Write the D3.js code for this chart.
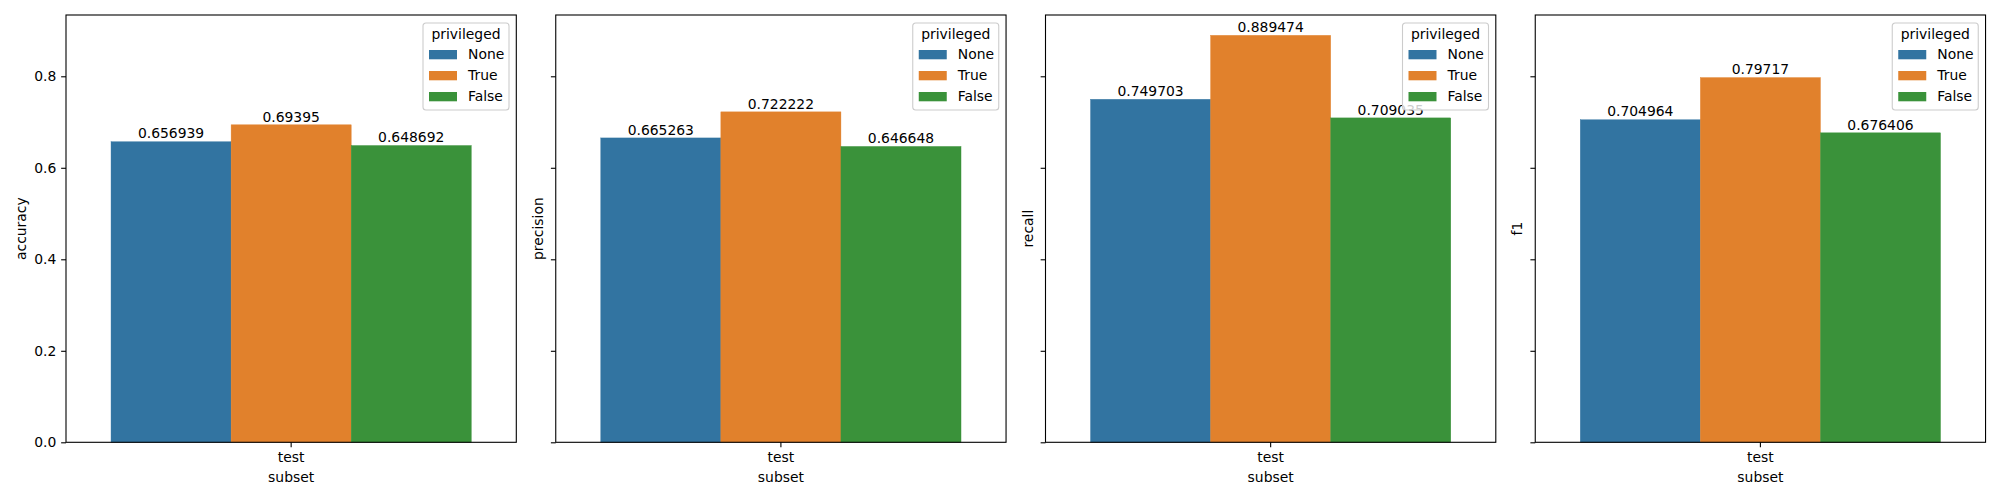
<!DOCTYPE html>
<html>
<head>
<meta charset="utf-8">
<script src="https://cdn.jsdelivr.net/npm/d3@7"></script>
<style>
  body { margin: 0; background: #fff; }
  text { font-family: "DejaVu Sans", sans-serif; font-size: 13.9px; fill: #000; }
</style>
</head>
<body>
<div id="chart"></div>
<script>
const width = 2000;
const height = 500;

// data
const metrics = ["accuracy", "precision", "recall", "f1"];
const subsets = ["test"];
const groups = ["None", "True", "False"];
const accuracy = [0.656939, 0.69395, 0.648692];
const precision = [0.665263, 0.722222, 0.646648];
const recall = [0.749703, 0.889474, 0.709035];
const f1 = [0.704964, 0.79717, 0.676406];
const yTicks = [0.0, 0.2, 0.4, 0.6, 0.8];

const values = {accuracy, precision, recall, f1};
const colors = ["#3274a1", "#e1812c", "#3a923a"];

const panel = {left: 66, step: 489.75, width: 450.3, top: 15, bottom: 442.3};

const svg = d3.select('#chart')
    .append('svg')
    .attr('width', width)
    .attr('height', height)
    .attr('viewBox', [0, 0, width, height]);

// shared y (sharey), matplotlib adds 5% headroom
const yMax = d3.max(metrics, m => d3.max(values[m])) * 1.05;
const y = d3.scaleLinear()
    .domain([0, yMax])
    .range([panel.bottom, panel.top]);

const color = d3.scaleOrdinal().domain(groups).range(colors);

metrics.forEach((metric, k) => {
    const x0 = panel.left + k * panel.step;
    const g = svg.append('g').attr('transform', `translate(${x0}, 0)`);

    // one category, bars fill 80% of it like seaborn
    const x = d3.scaleBand()
        .domain(subsets)
        .range([0, panel.width])
        .paddingInner(0)
        .paddingOuter(0.125);

    const xh = d3.scaleBand()
        .domain(groups)
        .range([0, x.bandwidth()]);

    const rows = groups.map((grp, i) => ({grp, v: values[metric][i]}));

    g.append('g')
        .selectAll('rect')
        .data(rows)
        .enter()
        .append('rect')
            .attr('x', d => x(subsets[0]) + xh(d.grp))
            .attr('y', d => y(d.v))
            .attr('width', xh.bandwidth())
            .attr('height', d => y(0) - y(d.v))
            .attr('fill', d => color(d.grp))
            .attr('stroke', d => color(d.grp))
            .attr('stroke-width', 0.4);

    // bar labels
    g.append('g')
        .selectAll('text')
        .data(rows)
        .enter()
        .append('text')
            .attr('x', d => x(subsets[0]) + xh(d.grp) + xh.bandwidth() / 2)
            .attr('y', d => y(d.v) - 3.3)
            .attr('text-anchor', 'middle')
            .text(d => String(d.v));

    // y axis
    const yAxis = g.append('g')
        .call(d3.axisLeft(y).tickValues(yTicks).tickSize(4.86).tickPadding(4.86)
            .tickFormat(k === 0 ? d3.format('.1f') : () => ''));
    yAxis.select('.domain').remove();
    yAxis.selectAll('line').attr('stroke', '#000').attr('stroke-width', 1.1);
    yAxis.selectAll('text').style('font-size', '13.9px');

    // x axis
    const xAxis = g.append('g')
        .attr('transform', `translate(0, ${panel.bottom})`)
        .call(d3.axisBottom(x).tickSize(4.86).tickPadding(4.86));
    xAxis.select('.domain').remove();
    xAxis.selectAll('line').attr('stroke', '#000').attr('stroke-width', 1.1);
    xAxis.selectAll('text').style('font-size', '13.9px').attr('dy', '0.72em');

    // frame
    g.append('rect')
        .attr('x', 0)
        .attr('y', panel.top)
        .attr('width', panel.width)
        .attr('height', panel.bottom - panel.top)
        .attr('fill', 'none')
        .attr('stroke', '#000')
        .attr('stroke-width', 1.1);

    g.append('text')
        .attr('x', panel.width / 2)
        .attr('y', 481.5)
        .attr('text-anchor', 'middle')
        .text('subset');

    const labelX = k === 0 ? -40 : -13;
    g.append('text')
        .attr('transform', `translate(${labelX}, ${(panel.top + panel.bottom) / 2}) rotate(-90)`)
        .attr('text-anchor', 'middle')
        .text(metric);

    // legend, drawn last so it sits on top of the labels
    const lw = 86, lh = 87;
    const lg = g.append('g')
        .attr('transform', `translate(${panel.width - 7.3 - lw}, ${panel.top + 8})`);
    lg.append('rect')
        .attr('width', lw)
        .attr('height', lh)
        .attr('rx', 3)
        .attr('fill', '#fff')
        .attr('fill-opacity', 0.8)
        .attr('stroke', '#cccccc')
        .attr('stroke-width', 1.1);
    lg.append('text')
        .attr('x', lw / 2)
        .attr('y', 16.3)
        .attr('text-anchor', 'middle')
        .text('privileged');
    groups.forEach((grp, i) => {
        lg.append('rect')
            .attr('x', 6)
            .attr('y', 27 + i * 21)
            .attr('width', 28)
            .attr('height', 9.3)
            .attr('fill', color(grp));
        lg.append('text')
            .attr('x', 45)
            .attr('y', 36.3 + i * 21)
            .text(grp);
    });
});
</script>
</body>
</html>
